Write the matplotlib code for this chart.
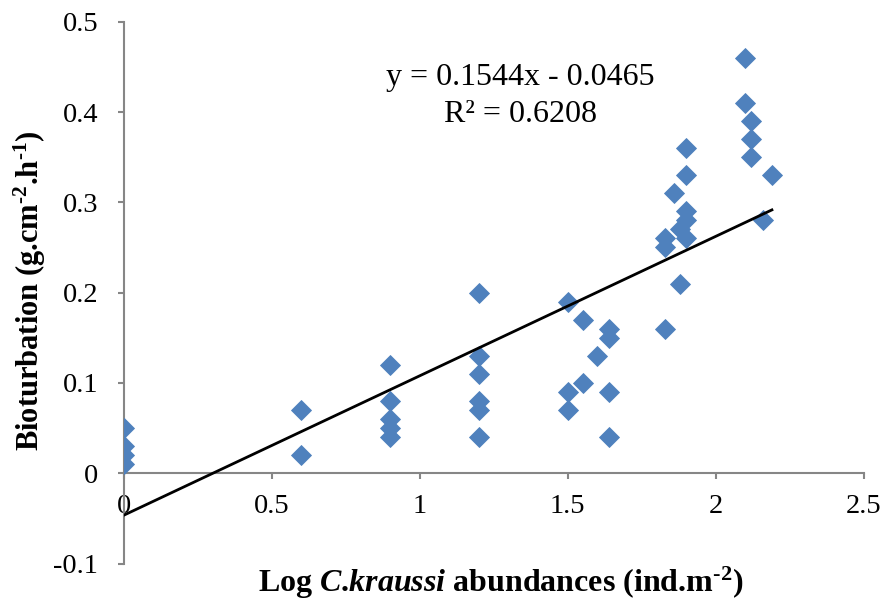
import matplotlib
matplotlib.use("Agg")
import matplotlib.pyplot as plt
import numpy as np

plt.rcParams['font.family'] = ['Liberation Serif', 'DejaVu Serif']
plt.rcParams['mathtext.fontset'] = 'custom'
plt.rcParams['mathtext.rm'] = 'Liberation Serif'
plt.rcParams['mathtext.it'] = 'Liberation Serif:italic'
plt.rcParams['mathtext.bf'] = 'Liberation Serif:bold'
plt.rcParams['mathtext.bfit'] = 'Liberation Serif:italic:bold'

# log abundance vs bioturbation
log_abund = [0, 0, 0, 0,
             0.60, 0.60,
             0.90, 0.90, 0.90, 0.90, 0.90,
             1.20, 1.20, 1.20, 1.20, 1.20, 1.20,
             1.50, 1.50, 1.50,
             1.55, 1.55,
             1.60,
             1.64, 1.64, 1.64, 1.64,
             1.83, 1.83, 1.83,
             1.86,
             1.88, 1.88,
             1.90, 1.90, 1.90, 1.90, 1.90,
             2.10, 2.10,
             2.12, 2.12, 2.12,
             2.16,
             2.19]
biot = [0.05, 0.03, 0.02, 0.01,
        0.07, 0.02,
        0.12, 0.08, 0.06, 0.05, 0.04,
        0.20, 0.13, 0.11, 0.08, 0.07, 0.04,
        0.19, 0.09, 0.07,
        0.17, 0.10,
        0.13,
        0.16, 0.15, 0.09, 0.04,
        0.26, 0.25, 0.16,
        0.31,
        0.27, 0.21,
        0.36, 0.33, 0.29, 0.28, 0.26,
        0.46, 0.41,
        0.39, 0.37, 0.35,
        0.28,
        0.33]
slope = 0.1544
intercept = -0.0465
r2 = 0.6208

fig = plt.figure(figsize=(8.84, 6.04), dpi=100)
ax = fig.add_axes([0.140, 0.067, 0.837, 0.897])

ax.plot(log_abund, biot, linestyle='none', marker='D', ms=10.6, mew=0.6,
        color='#4F81BD', mec='#4F81BD', zorder=3)

xl = np.array([0, max(log_abund)])
ax.plot(xl, slope * xl + intercept, color='black', lw=2, zorder=4)

ax.set_xlim(0, 2.5)
ax.set_ylim(-0.1, 0.5)
ax.set_xticks([0, 0.5, 1, 1.5, 2, 2.5])
ax.set_xticklabels(['0', '0.5', '1', '1.5', '2', '2.5'])
ax.set_yticks([-0.1, 0, 0.1, 0.2, 0.3, 0.4, 0.5])
ax.set_yticklabels(['-0.1', '0', '0.1', '0.2', '0.3', '0.4', '0.5'])

ax.spines['left'].set_position(('data', 0))
ax.spines['bottom'].set_position(('data', 0))
ax.spines['top'].set_visible(False)
ax.spines['right'].set_visible(False)
for s in ('left', 'bottom'):
    ax.spines[s].set_color('#868686')
    ax.spines[s].set_linewidth(1.5)
ax.tick_params(axis='both', direction='out', length=4.5, width=1.5,
               color='#868686', labelsize=20.5)
ax.tick_params(axis='x', pad=10.5)
ax.tick_params(axis='y', pad=14)

hy = '\u2010'
fig.text(0.034, 0.518,
         r'Bioturbation (g.cm$^{\mathbf{' + hy + r'2}}$.h$^{\mathbf{' + hy + r'1}}$)',
         rotation=90, ha='center', va='center', fontsize=22, fontweight='bold')
fig.text(0.566, 0.035,
         r'Log $\mathbfit{C}$.$\mathbfit{kraussi}$ abundances (ind.m$^{\mathbf{' + hy + r'2}}$)',
         ha='center', va='center', fontsize=23, fontweight='bold')

ax.text(1.34, 0.438, 'y = %.4fx - %.4f' % (slope, -intercept),
        ha='center', va='center', fontsize=23)
ax.text(1.34, 0.397, 'R\u00b2 = %.4f' % r2, ha='center', va='center', fontsize=23)

fig.savefig('out.png', dpi=100)
